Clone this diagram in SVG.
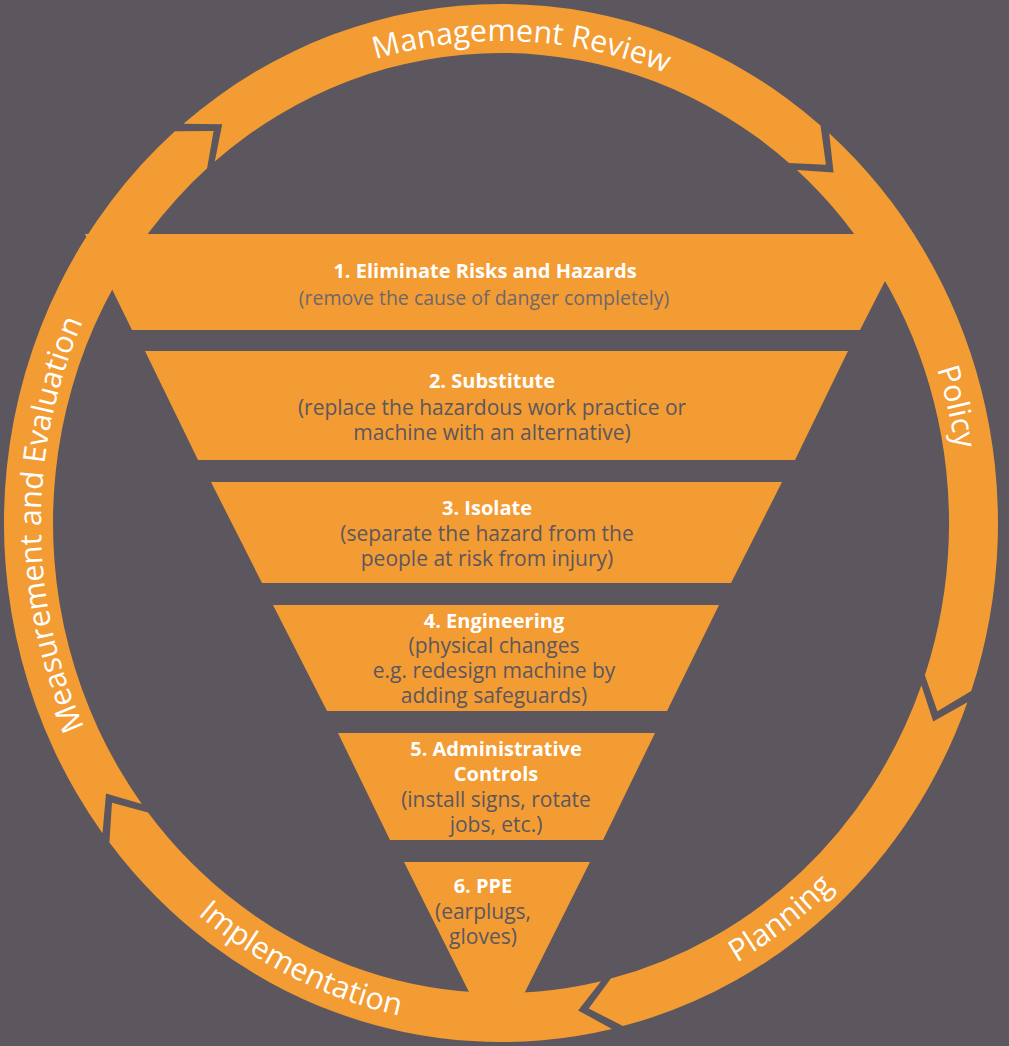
<svg xmlns="http://www.w3.org/2000/svg" width="1009" height="1046" viewBox="0 0 1009 1046">
<style>
.ring{fill:#f39c33}
.trap{fill:#f39c33}
.rt{font-family:"Open Sans","Noto Sans",sans-serif;font-size:30.5px;fill:#ffffff}
.t{font-family:"Open Sans","Noto Sans",sans-serif;font-size:20px;font-weight:bold;fill:#ffffff;text-anchor:middle}
.s{font-family:"Open Sans","Noto Sans",sans-serif;font-size:21px;fill:#5c575f;text-anchor:middle}
</style>
<defs>
<path id="pMgmt" d="M113,264 A460,482 0 0 1 909,300.5"/>
<path id="pPolicy" d="M626.3,59.2 A460,482 0 0 1 821.7,868.5"/>
<path id="pMeas" d="M272.4,941.3 A460,482 0 0 1 269.6,106.4"/>
<path id="pPlan" d="M301.9,982 A482,504 0 0 0 980.7,473.8"/>
<path id="pImpl" d="M20.9,567.8 A482,504 0 0 0 778.2,935.3"/>
</defs>
<rect width="1009" height="1046" fill="#5c575f"/>
<g id="cycle">
<g id="management-review">
<path class="ring" d="M183.5,123.7 A497,519 0 0 1 820.5,125.4 L825.9,164.7 L789,163 A448,470 0 0 0 214.8,161.4 L222.2,124.3 Z"/>
<text class="rt"><textPath href="#pMgmt" startOffset="50%" text-anchor="middle">Management Review</textPath></text>
</g>
<g id="policy">
<path class="ring" d="M829.2,133.3 A497,519 0 0 1 971.2,691.1 L937.4,711.3 L924.9,675.2 A448,470 0 0 0 796.9,170.1 L833.6,172.5 Z"/>
<text class="rt"><textPath href="#pPolicy" startOffset="50%" text-anchor="middle">Policy</textPath></text>
</g>
<g id="planning">
<path class="ring" d="M967.4,702.2 A497,519 0 0 1 622.9,1026.1 L588.7,1008.4 L610.9,978.6 A448,470 0 0 0 921.4,685.3 L933.2,721.5 Z"/>
<text class="rt"><textPath href="#pPlan" startOffset="50%" text-anchor="middle">Planning</textPath></text>
</g>
<g id="implementation">
<path class="ring" d="M612,1028.9 A497,519 0 0 1 109.4,842.5 L112,802.8 L148,812.4 A448,470 0 0 0 601,981.2 L578.1,1010.4 Z"/>
<text class="rt"><textPath href="#pImpl" startOffset="50%" text-anchor="middle">Implementation</textPath></text>
</g>
<g id="measurement-evaluation">
<path class="ring" d="M102.5,833.2 A497,519 0 0 1 174.9,131.3 L213.6,131.1 L207.1,168.3 A448,470 0 0 0 141.8,803.9 L106,793.5 Z"/>
<text class="rt"><textPath href="#pMeas" startOffset="50%" text-anchor="middle">Measurement and Evaluation</textPath></text>
</g>
</g>
<g id="level1">
<polygon class="trap" points="85,234 909,234 860,330 132,330"/>
<text class="t" x="485" y="278">1. Eliminate Risks and Hazards</text>
<text class="s" x="484" y="305" style="font-size:19.5px;fill:#6e676b">(remove the cause of danger completely)</text>
</g>
<g id="level2">
<polygon class="trap" points="145,351 848,351 795,460 198,460"/>
<text class="t" x="492" y="388">2. Substitute</text>
<text class="s" x="492" y="415">(replace the hazardous work practice or</text>
<text class="s" x="492" y="440">machine with an alternative)</text>
</g>
<g id="level3">
<polygon class="trap" points="211,482 782,482 731,583 262,583"/>
<text class="t" x="487" y="515">3. Isolate</text>
<text class="s" x="487" y="541">(separate the hazard from the</text>
<text class="s" x="487" y="566">people at risk from injury)</text>
</g>
<g id="level4">
<polygon class="trap" points="273,605 719,605 667,711 327,711"/>
<text class="t" x="494" y="628">4. Engineering</text>
<text class="s" x="494" y="653">(physical changes</text>
<text class="s" x="494" y="678">e.g. redesign machine by</text>
<text class="s" x="494" y="703">adding safeguards)</text>
</g>
<g id="level5">
<polygon class="trap" points="338,733 655,733 603,840 390,840"/>
<text class="t" x="496" y="756">5. Administrative</text>
<text class="t" x="496" y="781">Controls</text>
<text class="s" x="496" y="807">(install signs, rotate</text>
<text class="s" x="496" y="832">jobs, etc.)</text>
</g>
<g id="level6">
<polygon class="trap" points="404,862 590,862 521,1000 473,1000"/>
<text class="t" x="483" y="893">6. PPE</text>
<text class="s" x="483" y="919">(earplugs,</text>
<text class="s" x="483" y="944">gloves)</text>
</g>
</svg>
